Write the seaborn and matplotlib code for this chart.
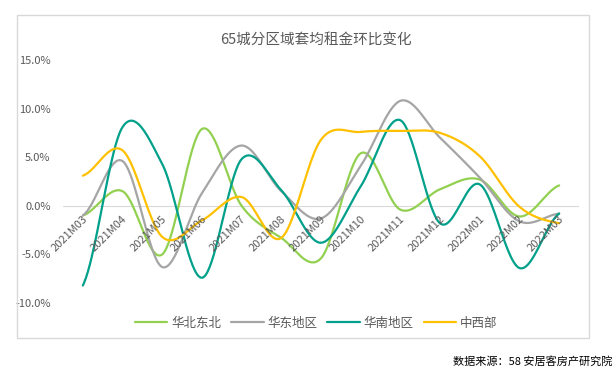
import numpy as np
import pandas as pd
import matplotlib
matplotlib.use("Agg")
import matplotlib.pyplot as plt
import seaborn as sns
from matplotlib.patches import Rectangle

sns.set_style("white")
plt.rcParams['font.family'] = ['Noto Sans CJK SC', 'DejaVu Sans']

# datos (%)
meses = ['2021M03', '2021M04', '2021M05', '2021M06', '2021M07', '2021M08', '2021M09',
         '2021M10', '2021M11', '2021M12', '2022M01', '2022M02', '2022M03']
huabei = [-1.0, 1.5, -5.0, 7.9, 0.0, -3.3, -5.4, 5.4, -0.4, 1.7, 2.7, -1.1, 2.1]
huadong = [-1.0, 4.6, -6.3, 1.3, 6.2, 1.5, -1.3, 4.1, 10.8, 7.0, 2.9, -1.6, -0.8]
huanan = [-8.2, 8.1, 4.3, -7.4, 4.8, 1.6, -3.8, 2.0, 8.8, -1.8, 2.2, -6.4, -0.8]
zhongxi = [3.1, 5.7, -3.2, -1.5, 0.9, -3.3, 6.8, 7.6, 7.7, 7.5, 5.1, -0.1, -1.8]

series = {'华北东北': huabei, '华东地区': huadong, '华南地区': huanan, '中西部': zhongxi}
colores = {'华北东北': '#92D050', '华东地区': '#A5A5A5', '华南地区': '#00A08A', '中西部': '#FFC000'}


def suavizar(vals, n=40):
    # curva suavizada tipo Excel (Bezier con puntos de control a 1/6)
    p = np.array(vals, dtype=float)
    xs, ys = [], []
    for i in range(len(p) - 1):
        p0 = p[i - 1] if i > 0 else p[i]
        p3 = p[i + 2] if i + 2 < len(p) else p[i + 1]
        b1 = p[i] + (p[i + 1] - p0) / 6
        b2 = p[i + 1] - (p3 - p[i]) / 6
        t = np.linspace(0, 1, n, endpoint=False)
        ys.extend((1 - t) ** 3 * p[i] + 3 * (1 - t) ** 2 * t * b1 + 3 * (1 - t) * t ** 2 * b2 + t ** 3 * p[i + 1])
        xs.extend(i + t)
    xs.append(len(p) - 1)
    ys.append(p[-1])
    return np.array(xs), np.array(ys) / 100


filas = []
for nombre, vals in series.items():
    xs, ys = suavizar(vals)
    filas.append(pd.DataFrame({'x': xs, 'y': ys, 'region': nombre}))
df = pd.concat(filas, ignore_index=True)

fig = plt.figure(figsize=(6.14, 3.75), dpi=100)
fig.patches.append(Rectangle((17 / 614, 1 - 338 / 375), 572 / 614, 323 / 375,
                             transform=fig.transFigure, fill=False,
                             edgecolor='#D9D9D9', linewidth=1))
ax = fig.add_axes([63 / 614, 1 - 303 / 375, 516 / 614, 243 / 375])
ax.set_facecolor('none')

ax.axhline(0, color='#D9D9D9', linewidth=0.8, zorder=0)
sns.lineplot(data=df, x='x', y='y', hue='region', hue_order=list(series.keys()),
             palette=colores, linewidth=1.6, sort=False, estimator=None, ax=ax)

ax.set_xlim(-0.5, len(meses) - 0.5)
ax.set_ylim(-0.10, 0.15)
ax.set_yticks(np.arange(-0.10, 0.151, 0.05))
ax.set_yticklabels([f"{v * 100:.1f}%" for v in np.arange(-0.10, 0.151, 0.05)],
                   color='#595959', fontsize=8)
ax.tick_params(axis='y', length=0, pad=9)
ax.set_xticks([])
ax.set_xlabel('')
ax.set_ylabel('')
for s in ax.spines.values():
    s.set_visible(False)

for i, m in enumerate(meses):
    ax.annotate(m, xy=(i, 0), xytext=(2, -8), textcoords='offset points',
                rotation=45, rotation_mode='anchor', ha='right', va='center',
                fontsize=8, color='#595959')

fig.text(316 / 614, 1 - 40 / 375, '65城分区域套均租金环比变化', ha='center', va='center',
         fontsize=10.5, color='#595959')

handles, labels = ax.get_legend_handles_labels()
ax.legend(handles, labels, loc='center', bbox_to_anchor=(316 / 614, 1 - 323 / 375),
          bbox_transform=fig.transFigure, ncol=4, frameon=False, fontsize=9,
          handlelength=2.6, columnspacing=0.8, handletextpad=0.3, labelcolor='#595959')

fig.text(612 / 614, 1 - 361 / 375, '数据来源：58 安居客房产研究院', ha='right', va='center',
         fontsize=8, color='black')

plt.savefig('out.png', dpi=100)
